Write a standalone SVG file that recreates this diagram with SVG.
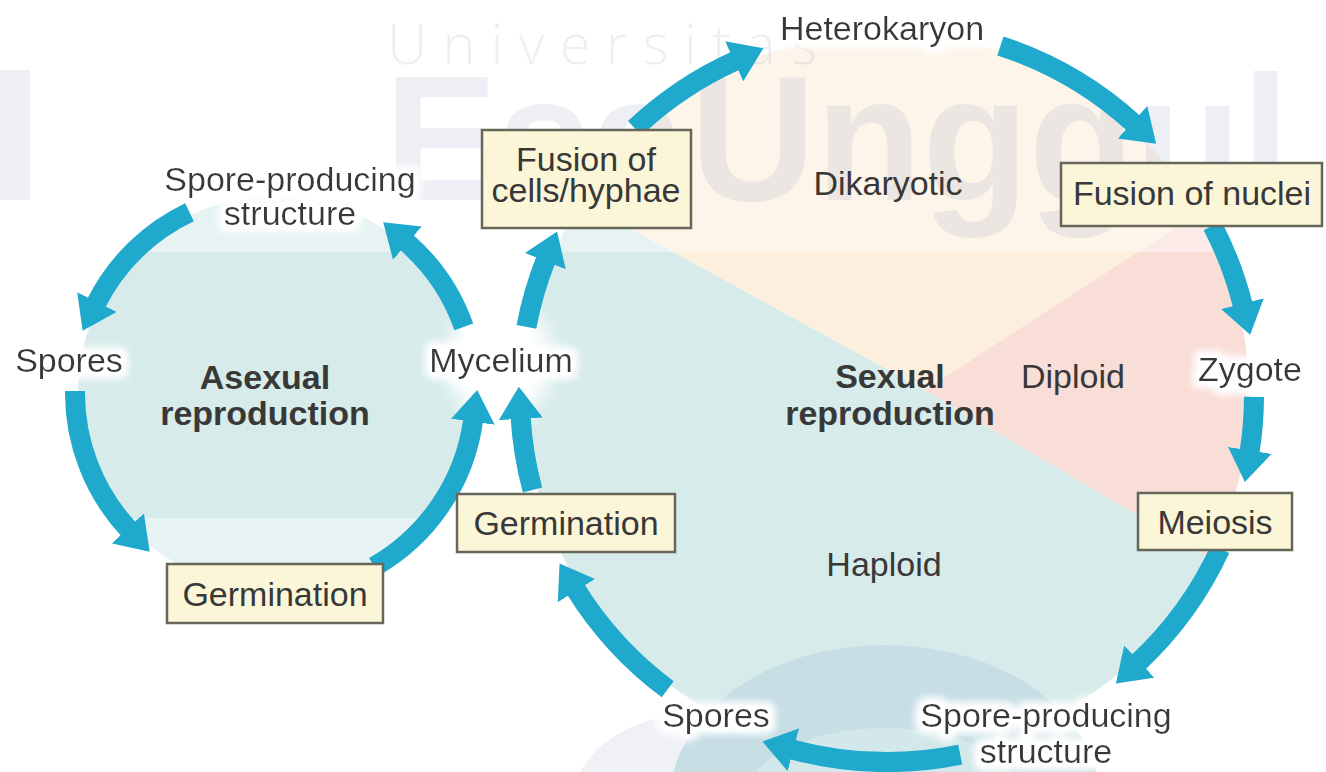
<svg xmlns="http://www.w3.org/2000/svg" width="1326" height="772" viewBox="0 0 1326 772">
  <defs>
    <style>
      .lbl { font-family: "Liberation Sans", Arial, sans-serif; font-size: 34px; fill: #383838; text-anchor: middle; }
      .bold { font-weight: bold; }
      .box { fill: #fbf6d8; stroke: #66665a; stroke-width: 2.5; }
      .arr { fill: none; stroke: #1fa9cc; stroke-width: 20; marker-end: url(#ah); }
      .wm { fill: #7f8fb0; fill-opacity: 0.14; }
    </style>
    <marker id="ah" markerUnits="userSpaceOnUse" markerWidth="32" markerHeight="44" viewBox="0 0 32 44" refX="2" refY="22" orient="auto">
      <path d="M0,0 L32,22 L0,44 z" fill="#1fa9cc"/>
    </marker>
    <filter id="halo" x="-30%" y="-60%" width="160%" height="220%">
      <feMorphology in="SourceAlpha" operator="dilate" radius="5" result="d"/>
      <feGaussianBlur in="d" stdDeviation="4" result="b"/>
      <feFlood flood-color="#ffffff" result="f"/>
      <feComposite in="f" in2="b" operator="in" result="w"/>
      <feMerge><feMergeNode in="w"/><feMergeNode in="w"/><feMergeNode in="SourceGraphic"/></feMerge>
    </filter>
    <filter id="soft" x="-50%" y="-50%" width="200%" height="200%">
      <feGaussianBlur stdDeviation="10"/>
    </filter>
  </defs>

  <rect x="0" y="0" width="1326" height="772" fill="#ffffff"/>

  <!-- background regions -->
  <g id="regions">
    <ellipse cx="690" cy="810" rx="120" ry="95" fill="#f0f1f7"/>
    <circle cx="275" cy="393" r="197" fill="#d6ebea"/>
    <path d="M925,390 L1210.3,557.9 A362,362 0 1 1 581.1,201.5 Z" fill="#d6ebea"/>
    <path d="M925,390 L581.1,201.5 A362,362 0 0 1 1199.4,212.1 Z" fill="#fcefdd"/>
    <path d="M925,390 L1199.4,212.1 A362,362 0 0 1 1210.3,557.9 Z" fill="#f9ddd7"/>
    <ellipse cx="885" cy="800" rx="215" ry="155" fill="#c6dee4"/>
    <ellipse cx="885" cy="800" rx="140" ry="72" fill="#d3e8ea"/>
    <ellipse cx="500" cy="360" rx="52" ry="62" fill="#ffffff" filter="url(#soft)"/>
  </g>

  <!-- watermark -->
  <g id="watermark">
    <rect x="0" y="0" width="1326" height="252" fill="#ffffff" fill-opacity="0.4"/>
    <rect x="0" y="518" width="455" height="254" fill="#ffffff" fill-opacity="0.4"/>
    <rect class="wm" x="0" y="70" width="30" height="130"/>
    <text class="wm" x="387" y="64" font-family="'Open Sans', 'Liberation Sans', sans-serif" font-weight="300" font-size="56" textLength="430" lengthAdjust="spacing">Universitas</text>
    <text class="wm" x="385" y="200" font-family="'Liberation Sans', Arial, sans-serif" font-weight="bold" font-size="179" textLength="300" lengthAdjust="spacingAndGlyphs">Esa</text>
    <text class="wm" x="690" y="200" font-family="'Liberation Sans', Arial, sans-serif" font-weight="bold" font-size="179" textLength="600" lengthAdjust="spacingAndGlyphs">Unggul</text>
  </g>

  <!-- ring labels (with white halo) -->
  <g id="n-spore-structure-asex" filter="url(#halo)">
    <text class="lbl" x="290" y="191">Spore-producing</text>
    <text class="lbl" x="290" y="225">structure</text>
  </g>
  <g id="n-spores-asex" filter="url(#halo)">
    <text class="lbl" x="69" y="372">Spores</text>
  </g>
  <g id="n-mycelium" filter="url(#halo)">
    <text class="lbl" x="501" y="372">Mycelium</text>
  </g>
  <g id="n-heterokaryon" filter="url(#halo)">
    <text class="lbl" x="882" y="40">Heterokaryon</text>
  </g>
  <g id="n-zygote" filter="url(#halo)">
    <text class="lbl" x="1250" y="381">Zygote</text>
  </g>
  <g id="n-spores-sex" filter="url(#halo)">
    <text class="lbl" x="716" y="727">Spores</text>
  </g>
  <g id="n-spore-structure-sex" filter="url(#halo)">
    <text class="lbl" x="1046" y="727">Spore-producing</text>
    <text class="lbl" x="1046" y="763">structure</text>
  </g>

  <!-- region labels -->
  <g id="n-asexual">
    <text class="lbl bold" x="265" y="389">Asexual</text>
    <text class="lbl bold" x="265" y="425">reproduction</text>
  </g>
  <g id="n-sexual">
    <text class="lbl bold" x="890" y="388">Sexual</text>
    <text class="lbl bold" x="890" y="425">reproduction</text>
  </g>
  <g id="n-dikaryotic"><text class="lbl" x="888" y="195">Dikaryotic</text></g>
  <g id="n-diploid"><text class="lbl" x="1073" y="388">Diploid</text></g>
  <g id="n-haploid"><text class="lbl" x="884" y="576">Haploid</text></g>

  <!-- connectors -->
  <g id="connectors">
    <path class="arr" d="M189.5,212.2 A200,200 0 0 0 96,303.8"/>
    <path class="arr" d="M75,391 A200,200 0 0 0 129.2,529.9"/>
    <path class="arr" d="M374.1,566.7 A200,200 0 0 0 473.2,419.8"/>
    <path class="arr" d="M463.8,326.9 A200,200 0 0 0 405.9,241.8"/>
    <path class="arr" d="M526.4,326.9 A367,367 0 0 1 546,259.3"/>
    <path class="arr" d="M634.8,128.3 A367,367 0 0 1 736,60.5"/>
    <path class="arr" d="M1000.4,45.9 A367,367 0 0 1 1134,123.6"/>
    <path class="arr" d="M1212.5,225.6 A367,367 0 0 1 1242.9,305.6"/>
    <path class="arr" d="M1254,396.9 A367,367 0 0 1 1249.5,452.4"/>
    <path class="arr" d="M1220.2,548.9 A367,367 0 0 1 1137.8,662.9"/>
    <path class="arr" d="M960.2,754.6 A367,367 0 0 1 791.4,749.3"/>
    <path class="arr" d="M667.7,689.3 A367,367 0 0 1 575.4,588.9"/>
    <path class="arr" d="M532.5,490 A367,367 0 0 1 520.6,416.8"/>
  </g>

  <!-- boxed nodes -->
  <g id="n-germination-asex">
    <rect class="box" x="167" y="564" width="216" height="59"/>
    <text class="lbl" x="275" y="606">Germination</text>
  </g>
  <g id="n-germination-sex">
    <rect class="box" x="457" y="494" width="218" height="58"/>
    <text class="lbl" x="566" y="535">Germination</text>
  </g>
  <g id="n-fusion-cells">
    <rect class="box" x="482" y="130" width="209" height="98"/>
    <text class="lbl" x="586" y="171">Fusion of</text>
    <text class="lbl" x="586" y="202">cells/hyphae</text>
  </g>
  <g id="n-fusion-nuclei">
    <rect class="box" x="1061" y="163" width="261" height="63"/>
    <text class="lbl" x="1192" y="205">Fusion of nuclei</text>
  </g>
  <g id="n-meiosis">
    <rect class="box" x="1138" y="493" width="154" height="57"/>
    <text class="lbl" x="1215" y="534">Meiosis</text>
  </g>
</svg>
